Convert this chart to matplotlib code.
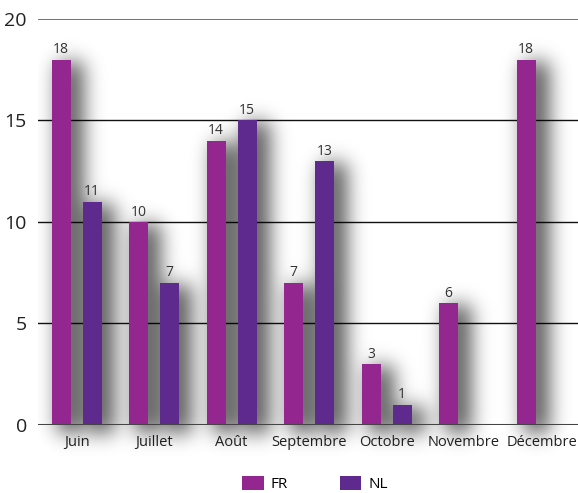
import matplotlib
matplotlib.use("Agg")
import matplotlib.pyplot as plt
import numpy as np
from matplotlib.patches import Patch

categories = ["Juin", "Juillet", "Août", "Septembre", "Octobre", "Novembre", "Décembre"]
fr_values = [18, 10, 14, 7, 3, 6, 18]
nl_values = [11, 7, 15, 13, 1, None, None]
series_names = ["FR", "NL"]
y_ticks = [0, 5, 10, 15, 20]

fr_color = "#93278F"
nl_color = "#5F2A8D"

plt.rcParams['font.family'] = ['Open Sans', 'DejaVu Sans']

fig = plt.figure(figsize=(5.78, 4.93), dpi=100)
ax = fig.add_axes([0.0657, 0.138, 0.9343, 0.8235])

x = np.arange(len(categories))
w = 0.245
off = 0.2
xlim = (-0.5, 6.47)
ylim = (0, 20)
px_x = (xlim[1] - xlim[0]) / 540.0
px_y = (ylim[1] - ylim[0]) / 406.0

# soft drop shadow (gaussian blur of offset bar rectangles)
sx0, sx1 = xlim[0], xlim[1]
sy0, sy1 = -35 * px_y, ylim[1] + 10 * px_y
nx = int(round((sx1 - sx0) / px_x))
ny = int(round((sy1 - sy0) / px_y))
gx = sx0 + (np.arange(nx) + 0.5) * px_x
gy = sy0 + (np.arange(ny) + 0.5) * px_y
GX, GY = np.meshgrid(gx, gy)
mask = np.zeros_like(GX)
dx, dy, grow = 9 * px_x, 2 * px_y, 3 * px_x
for i in range(len(categories)):
    for v, xc in ((fr_values[i], x[i] - off), (nl_values[i], x[i] + off)):
        if v is None:
            continue
        m = ((GX >= xc - w / 2 + dx - grow) & (GX <= xc + w / 2 + dx + grow) &
             (GY >= -8 * px_y) & (GY <= v - dy))
        mask[m] = 1.0
sig = 10.0
kr = np.arange(-35, 36)
k = np.exp(-kr ** 2 / (2 * sig ** 2))
k /= k.sum()
blur = np.apply_along_axis(lambda r: np.convolve(r, k, mode="same"), 1, mask)
blur = np.apply_along_axis(lambda c: np.convolve(c, k, mode="same"), 0, blur)
rgba = np.zeros((ny, nx, 4))
rgba[..., 3] = np.clip(blur * 0.68, 0, 1)
ax.imshow(rgba, extent=(sx0, sx1, sy0, sy1), origin="lower", aspect="auto",
          zorder=2.5, interpolation="bilinear", clip_on=False)

fr_h = [v if v is not None else np.nan for v in fr_values]
nl_h = [v if v is not None else np.nan for v in nl_values]
ax.bar(x - off, fr_h, width=w, color=fr_color, zorder=3, linewidth=0)
ax.bar(x + off, nl_h, width=w, color=nl_color, zorder=3, linewidth=0)

for i in range(len(categories)):
    for v, xc in ((fr_values[i], x[i] - off), (nl_values[i], x[i] + off)):
        if v is not None:
            ax.text(xc, v + 0.12, str(v), ha="center", va="bottom",
                    fontsize=10, color="#333333", zorder=5)

for t in y_ticks[1:-1]:
    ax.axhline(t, color="#111111", linewidth=1.0, zorder=2)
ax.axhline(20, color="#666666", linewidth=1.3, zorder=2)
ax.axhline(0, color="#444444", linewidth=2.2, zorder=4)

ax.set_xlim(*xlim)
ax.set_ylim(*ylim)
ax.set_yticks(y_ticks)
ax.set_yticklabels([str(t) for t in y_ticks], fontsize=14, color="#222222")
ax.set_xticks(x)
ax.set_xticklabels(categories, fontsize=10.5, color="#222222")
ax.tick_params(axis="both", length=0)
ax.tick_params(axis="y", pad=8)
ax.tick_params(axis="x", pad=7)
for s in ax.spines.values():
    s.set_visible(False)

handles = [Patch(facecolor=fr_color, label=series_names[0]),
           Patch(facecolor=nl_color, label=series_names[1])]
fig.legend(handles=handles, loc="center", bbox_to_anchor=(0.545, 0.018), ncol=2,
           frameon=False, fontsize=11, handlelength=1.4, handleheight=1.0,
           columnspacing=3.4, handletextpad=0.45, borderaxespad=0, borderpad=0)

fig.savefig("out.png", dpi=100)
